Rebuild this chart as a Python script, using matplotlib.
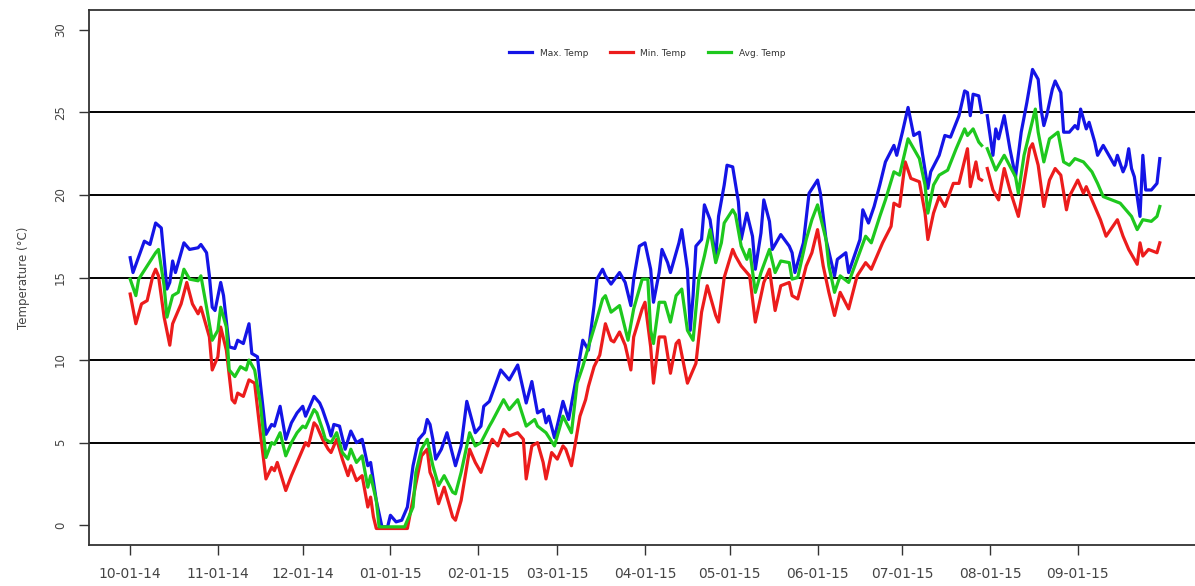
import matplotlib
matplotlib.use('Agg')
import matplotlib.pyplot as plt
import matplotlib.dates as mdates
import numpy as np
import pandas as pd

# daily temperatures as (day offset from 10-01-14, degC)
start = pd.Timestamp('2014-10-01')
nan = np.nan

max_days = [0, 1, 5, 7, 9, 11, 13, 14, 15, 16, 19, 21, 24, 25, 27, 28, 29, 30, 32, 33,
            35, 37, 38, 40, 42, 43, 45, 46, 48, 50, 51, 53, 55, 57, 59, 61, 62, 65, 67, 68,
            70, 71, 72, 74, 76, 78, 80, 82, 84, 85, 87, 89, 91, 92, 94, 96, 98, 100, 102, 104,
            105, 106, 107, 108, 110, 112, 115, 117, 119, 122, 124, 125, 127, 131, 134, 137, 140, 142, 144, 146,
            147, 148, 150, 153, 155, 158, 160, 162, 164, 165, 167, 168, 170, 173, 175, 177, 178, 180, 182, 184,
            185, 187, 188, 190, 191, 193, 194, 195, 197, 198, 199, 200, 202, 203, 205, 207, 208, 210, 211, 213,
            215, 216, 218, 220, 221, 223, 224, 226, 227, 230, 233, 234, 235, 238, 240, 243, 244, 246, 249, 250,
            253, 254, 258, 259, 261, 263, 265, 267, 270, 271, 273, 275, 277, 279, 280, 282, 283, 286, 288, 290,
            293, 295, 296, 297, 298, 300, 301, 302, 303, 305, 306, 307, 309, 311, 313, 315, 317, 319, 321, 322,
            323, 324, 326, 327, 329, 330, 332, 334, 335, 336, 338, 339, 341, 342, 344, 346, 348, 349, 351, 352,
            353, 354, 355, 357, 358, 359, 361, 363, 364]
max_temp = [16.2, 15.3, 17.2, 17.0, 18.3, 18.0, 14.3, 14.7, 16.0, 15.3, 17.1, 16.7, 16.8, 17.0, 16.5, 15.1, 13.2, 13.0, 14.7, 13.9,
            10.8, 10.7, 11.2, 11.0, 12.2, 10.4, 10.2, 8.6, 5.5, 6.1, 6.0, 7.2, 5.2, 6.2, 6.8, 7.2, 6.6, 7.8, 7.4, 7.0,
            6.0, 5.4, 6.1, 6.0, 4.6, 5.7, 5.0, 5.2, 3.6, 3.8, 1.5, -0.1, -0.1, 0.6, 0.2, 0.3, 1.1, 3.6, 5.2, 5.6,
            6.4, 6.1, 5.2, 4.0, 4.6, 5.6, 3.6, 4.8, 7.5, 5.6, 6.0, 7.2, 7.5, 9.4, 8.8, 9.7, 7.4, 8.7, 6.8, 7.0,
            6.2, 6.6, 5.3, 7.5, 6.4, 9.2, 11.2, 10.6, 13.3, 14.9, 15.5, 15.1, 14.6, 15.3, 14.7, 13.3, 14.9, 16.9, 17.1, 15.5,
            13.5, 15.3, 16.7, 15.9, 15.3, 16.5, 17.1, 17.9, 15.5, 11.8, 13.9, 16.9, 17.3, 19.4, 18.5, 16.1, 18.7, 20.6, 21.8, 21.7,
            19.6, 17.3, 18.9, 17.5, 15.5, 17.7, 19.7, 18.4, 16.7, 17.6, 16.9, 16.5, 15.3, 17.1, 20.1, 20.9, 20.1, 17.3, 15.1, 16.1,
            16.5, 15.3, 17.3, 19.1, 18.3, 19.3, 20.6, 22.0, 23.0, 22.4, 23.8, 25.3, 23.6, 23.8, 22.6, 20.4, 21.4, 22.4, 23.6, 23.5,
            24.8, 26.3, 26.2, 24.8, 26.1, 26.0, 25.0, nan, 24.8, 22.4, 24.0, 23.4, 24.8, 22.8, 21.1, 23.8, 25.6, 27.6, 27.0, 25.2,
            24.2, 24.8, 26.4, 26.9, 26.2, 23.8, 23.8, 24.2, 24.0, 25.2, 24.0, 24.4, 23.2, 22.4, 23.0, 22.4, 21.8, 22.4, 21.4, 21.8,
            22.8, 21.6, 21.1, 18.7, 22.4, 20.3, 20.3, 20.7, 22.2]

min_days = [0, 2, 4, 6, 8, 9, 10, 12, 14, 15, 17, 18, 20, 22, 24, 25, 28, 29, 31, 32,
            34, 36, 37, 38, 40, 42, 44, 46, 48, 50, 51, 52, 55, 57, 59, 61, 62, 63, 65, 66,
            68, 70, 71, 73, 75, 77, 78, 80, 82, 84, 85, 86, 87, 98, 99, 101, 103, 105, 106, 107,
            109, 111, 114, 115, 117, 120, 122, 124, 127, 128, 130, 132, 134, 137, 139, 140, 142, 144, 146, 147,
            149, 151, 153, 154, 156, 159, 161, 162, 164, 166, 168, 170, 171, 173, 175, 177, 178, 181, 182, 184,
            185, 187, 189, 191, 193, 194, 197, 200, 202, 204, 207, 208, 210, 213, 214, 216, 219, 221, 224, 226,
            228, 230, 233, 234, 236, 239, 241, 243, 245, 247, 249, 251, 254, 257, 260, 262, 266, 269, 270, 272,
            274, 276, 279, 281, 282, 284, 286, 288, 291, 293, 296, 297, 299, 300, 301, 302, 303, 305, 307, 309,
            311, 314, 316, 318, 319, 321, 323, 325, 327, 329, 331, 332, 335, 337, 338, 340, 343, 345, 349, 351,
            353, 356, 357, 358, 360, 363, 364]
min_temp = [14.0, 12.2, 13.4, 13.6, 15.1, 15.5, 15.1, 12.6, 10.9, 12.2, 13.0, 13.4, 14.7, 13.4, 12.8, 13.2, 11.4, 9.4, 10.2, 12.0,
            10.6, 7.6, 7.4, 8.0, 7.8, 8.8, 8.6, 5.6, 2.8, 3.5, 3.3, 3.8, 2.1, 3.0, 3.8, 4.6, 5.0, 4.8, 6.2, 6.0,
            5.2, 4.6, 4.4, 5.2, 4.0, 3.0, 3.6, 2.7, 3.0, 1.1, 1.7, 0.5, -0.2, -0.2, 0.7, 2.5, 4.2, 4.6, 3.2, 2.8,
            1.3, 2.3, 0.5, 0.3, 1.5, 4.6, 3.8, 3.2, 4.8, 5.2, 4.8, 5.8, 5.4, 5.6, 5.2, 2.8, 4.8, 5.0, 3.8, 2.8,
            4.4, 4.0, 4.8, 4.6, 3.6, 6.6, 7.6, 8.4, 9.6, 10.3, 12.2, 11.2, 11.1, 11.7, 10.9, 9.4, 11.4, 13.1, 13.5, 10.8,
            8.6, 11.4, 11.4, 9.2, 11.0, 11.2, 8.6, 9.8, 12.9, 14.5, 12.7, 12.3, 15.0, 16.7, 16.3, 15.7, 15.1, 12.3, 14.7, 15.5,
            13.0, 14.5, 14.7, 13.9, 13.7, 15.7, 16.5, 17.9, 15.7, 14.1, 12.7, 14.1, 13.1, 15.1, 15.9, 15.5, 17.1, 18.1, 19.5, 19.3,
            22.0, 21.0, 20.8, 18.9, 17.3, 18.9, 19.9, 19.3, 20.7, 20.7, 22.8, 20.5, 22.0, 21.0, 20.9, nan, 21.6, 20.3, 19.7, 21.6,
            20.3, 18.7, 20.7, 22.8, 23.1, 21.8, 19.3, 20.9, 21.6, 21.2, 19.1, 19.9, 20.9, 20.1, 20.5, 19.7, 18.5, 17.5, 18.5, 17.5,
            16.7, 15.8, 17.1, 16.3, 16.7, 16.5, 17.1]

avg_days = [0, 2, 3, 6, 9, 10, 12, 13, 15, 17, 19, 21, 24, 25, 27, 29, 31, 32, 34, 35,
            37, 39, 41, 42, 44, 46, 48, 50, 51, 53, 55, 57, 59, 61, 62, 65, 66, 68, 69, 71,
            73, 75, 77, 78, 80, 82, 84, 85, 87, 88, 97, 100, 101, 103, 105, 106, 107, 109, 111, 114,
            115, 117, 120, 122, 124, 127, 128, 132, 134, 137, 140, 143, 144, 147, 150, 153, 156, 158, 160, 162,
            165, 167, 168, 170, 173, 176, 178, 181, 183, 184, 185, 187, 189, 191, 193, 195, 197, 199, 201, 203,
            205, 207, 209, 210, 213, 214, 216, 218, 219, 221, 223, 226, 228, 230, 233, 234, 236, 239, 241, 243,
            246, 247, 249, 251, 254, 257, 260, 262, 265, 267, 270, 272, 275, 277, 279, 281, 282, 284, 286, 289,
            292, 295, 296, 298, 300, 301, 302, 303, 306, 309, 313, 314, 316, 318, 320, 321, 323, 325, 328, 330,
            332, 334, 337, 340, 342, 344, 347, 350, 354, 356, 358, 361, 363, 364]
avg_temp = [14.9, 13.9, 14.9, 15.7, 16.5, 16.7, 14.5, 12.6, 13.9, 14.1, 15.5, 14.9, 14.8, 15.1, 13.2, 11.2, 11.8, 13.2, 12.0, 9.4,
            9.0, 9.6, 9.4, 10.0, 9.4, 7.4, 4.1, 5.0, 4.9, 5.6, 4.2, 5.0, 5.6, 6.0, 5.9, 7.0, 6.8, 5.8, 5.2, 5.0,
            5.6, 4.4, 4.0, 4.6, 3.8, 4.2, 2.3, 3.0, 1.5, -0.1, -0.1, 1.1, 3.2, 4.6, 5.2, 4.4, 3.6, 2.4, 3.0, 2.0,
            1.9, 3.2, 5.6, 4.8, 5.0, 6.0, 6.3, 7.6, 7.0, 7.6, 6.0, 6.4, 6.0, 5.6, 4.8, 6.6, 5.6, 8.6, 9.6, 10.8,
            12.5, 13.7, 13.9, 12.9, 13.3, 11.2, 13.1, 14.9, 14.9, 11.8, 11.0, 13.5, 13.5, 12.3, 13.9, 14.3, 11.8, 11.2, 14.9, 16.3,
            17.9, 15.9, 17.1, 18.3, 19.1, 18.8, 16.9, 16.1, 16.7, 14.1, 15.3, 16.7, 15.3, 16.0, 15.9, 14.9, 15.0, 17.3, 18.5, 19.4,
            17.3, 15.7, 14.1, 15.1, 14.7, 16.1, 17.5, 17.1, 18.7, 19.7, 21.4, 21.2, 23.4, 22.8, 22.2, 20.6, 18.9, 20.6, 21.2, 21.5,
            22.8, 24.0, 23.6, 24.0, 23.2, 23.0, nan, 22.8, 21.5, 22.4, 21.1, 20.1, 22.4, 23.8, 25.2, 23.8, 22.0, 23.4, 23.8, 22.0,
            21.8, 22.2, 22.0, 21.4, 20.7, 19.9, 19.7, 19.5, 18.7, 17.9, 18.5, 18.4, 18.7, 19.3]

y_ticks = [0, 5, 10, 15, 20, 25, 30]
ref_lines = [5, 10, 15, 20, 25]
month_ticks = pd.date_range('2014-10-01', '2015-09-01', freq='MS')


def to_dates(days):
    return start + pd.to_timedelta(days, unit='D')


W, H = 1195, 586
fig = plt.figure(figsize=(W / 100, H / 100), dpi=100)
ax = fig.add_axes([89 / W, 1 - 545 / H, (1201 - 89) / W, (545 - 10) / H])

for v in ref_lines:
    ax.axhline(v, color='black', lw=1.4, zorder=1)

ax.plot(to_dates(max_days), max_temp, color='#1414e6', lw=2.3, label='Max. Temp', zorder=3)
ax.plot(to_dates(min_days), min_temp, color='#ec1c1c', lw=2.3, label='Min. Temp', zorder=3)
ax.plot(to_dates(avg_days), avg_temp, color='#1ec81e', lw=2.3, label='Avg. Temp', zorder=3)

x0 = mdates.date2num(start)
ax.set_xlim(x0 - 14.56, x0 + 378.56)
ax.set_ylim(-1.2, 31.2)

ax.set_xticks(month_ticks)
ax.xaxis.set_major_formatter(mdates.DateFormatter('%m-%d-%y'))
ax.set_yticks(y_ticks)

ax.tick_params(axis='x', length=7, width=1.0, color='#333333', pad=9,
               labelsize=10, labelcolor='#444444')
ax.tick_params(axis='y', length=7, width=1.0, color='#333333', pad=9,
               labelsize=8.5, labelcolor='#444444', labelrotation=90)
for lab in ax.get_yticklabels():
    lab.set_verticalalignment('center')

for side in ['left', 'top', 'bottom']:
    ax.spines[side].set_color('#333333')
    ax.spines[side].set_linewidth(1.3)
ax.spines['right'].set_visible(False)

ax.set_ylabel('Temperature (°C)', fontsize=8.5, color='#444444', labelpad=17)

leg = ax.legend(loc='center', bbox_to_anchor=(647 / W, 1 - 53 / H), bbox_transform=fig.transFigure,
                ncol=3, frameon=False, fontsize=6.5, handlelength=2.6, handletextpad=0.8,
                columnspacing=2.4)
for line in leg.get_lines():
    line.set_linewidth(2.3)
for t in leg.get_texts():
    t.set_color('#333333')

fig.savefig('out.png', dpi=100)
